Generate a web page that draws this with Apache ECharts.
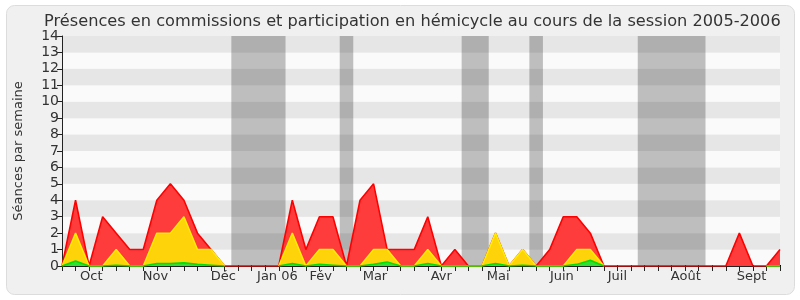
<!DOCTYPE html>
<html>
<head>
<meta charset="utf-8">
<script src="https://cdn.jsdelivr.net/npm/echarts@6/dist/echarts.min.js"></script>
<style>
html,body{margin:0;padding:0;background:#ffffff;}
#chart{width:800px;height:300px;}
</style>
</head>
<body>
<div id="chart"></div>
<script>
// Weekly values (index = week of the session)
var totalActivity = [0,4,0,3,2,1,1,4,5,4,2,1,0,0,0,0,0,4,1,3,3,0,4,5,1,1,1,3,0,1,0,0,2,0,1,0,1,3,3,2,0,0,0,0,0,0,0,0,0,0,2,0,0,1];
var commissionPresence = [0,2,0,0,1,0,0,2,2,3,1,1,0,null,null,null,0,2,0,1,1,0,0,1,1,0,0,1,0,0,0,0,2,0,1,0,0,0,1,1,0,null,null,null,null,null,null,null,null,null,null,null,0,0];
var hemicycleParticipation = [0,0.3,0,0,0.05,0,0,0.15,0.15,0.2,0.1,0.05,0,null,null,null,0,0.15,0,0.1,0.05,0,0,0.1,0.25,0,0,0.15,0,0,0,0,0.15,0,0.05,0,0,0,0.1,0.35,0,null,null,null,null,null,null,null,null,null,null,null,0,0];
// Month tick labels and their week positions
var monthLabels = ['Oct','Nov','Déc','Jan 06','Fév','Mar','Avr','Mai','Juin','Juil','Août','Sept'];
var monthPositions = [2.16,6.9,11.9,15.9,19.1,23.1,28.0,32.2,36.9,41.0,46.05,50.9];
// Parliamentary vacation periods (week index ranges)
var vacationStart = [12.5,20.5,29.5,34.5,42.5];
var vacationEnd = [16.5,21.5,31.5,35.5,47.5];
var yTicks = [0,1,2,3,4,5,6,7,8,9,10,11,12,13,14];

var weekIdx = totalActivity.map(function(_, i){ return i; });
function pairs(arr){ return arr.map(function(v,i){ return [i, v]; }); }

var chart = echarts.init(document.getElementById('chart'), null, {renderer:'canvas'});
var font = 'DejaVu Sans';
var option = {
  backgroundColor: 'transparent',
  animation: false,
  graphic: [{
    type: 'rect', z: -10, silent: true,
    shape: {x: 6.5, y: 5.5, width: 788, height: 289, r: 8},
    style: {fill: '#f0f0f0', stroke: '#dcdcdc', lineWidth: 1}
  }],
  title: {
    text: 'Présences en commissions et participation en hémicycle au cours de la session 2005-2006',
    left: 39, top: 9,
    textStyle: {fontFamily: font, fontSize: 16.2, fontWeight: 'normal', color: '#333'}
  },
  grid: {left: 62, right: 20, top: 36, bottom: 34},
  xAxis: [{
    type: 'value', min: 0, max: 53, position: 'bottom',
    axisLine: {show: true, onZero: false, lineStyle: {color: '#222', width: 1}},
    axisTick: {show: true, length: 5, customValues: weekIdx, lineStyle: {color: '#222'}},
    axisLabel: {
      show: true, customValues: monthPositions, fontFamily: font, fontSize: 13, color: '#333', margin: 4,
      formatter: function(v){ var k = monthPositions.indexOf(v); return k >= 0 ? monthLabels[k] : ''; }
    },
    splitLine: {show: false}
  }, {
    type: 'value', min: 0, max: 53, position: 'top',
    axisLine: {show: false},
    axisTick: {show: true, length: 1, customValues: weekIdx, lineStyle: {color: '#000'}},
    axisLabel: {show: false},
    splitLine: {show: false}
  }],
  yAxis: {
    type: 'value', min: 0, max: 14, interval: 1,
    name: 'Séances par semaine', nameLocation: 'middle', nameGap: 37,
    nameTextStyle: {fontFamily: font, fontSize: 13, color: '#333'},
    axisLine: {show: true, lineStyle: {color: '#222'}},
    axisTick: {show: true, length: 5, lineStyle: {color: '#222'}},
    axisLabel: {fontFamily: font, fontSize: 14, color: '#333', margin: 3,
      formatter: function(v){ return yTicks.indexOf(v) >= 0 ? String(v) : ''; }},
    splitLine: {show: false},
    splitArea: {show: true, areaStyle: {color: ['#fafafa', '#e6e6e6']}}
  },
  series: [{
    type: 'line', name: 'vacances', data: [], z: 1, silent: true,
    markArea: {
      silent: true,
      itemStyle: {color: 'rgba(0,0,0,0.24)'},
      data: vacationStart.map(function(s, k){ return [{xAxis: s}, {xAxis: vacationEnd[k]}]; })
    }
  }, {
    type: 'line', name: 'Total', data: pairs(totalActivity), z: 2,
    symbol: 'none', smooth: false,
    lineStyle: {color: '#ff0000', width: 1.6},
    areaStyle: {color: '#ff3c3c', opacity: 1}
  }, {
    type: 'line', name: 'Commission', data: pairs(commissionPresence), z: 3,
    symbol: 'none', smooth: false,
    lineStyle: {color: '#ffee00', width: 1.5},
    areaStyle: {color: '#ffd30a', opacity: 1}
  }, {
    type: 'line', name: 'Hémicycle', data: pairs(hemicycleParticipation), z: 4,
    symbol: 'none', smooth: false,
    lineStyle: {color: '#00dd00', width: 1.5},
    areaStyle: {color: '#33dd33', opacity: 1}
  }]
};
chart.setOption(option);
</script>
</body>
</html>
